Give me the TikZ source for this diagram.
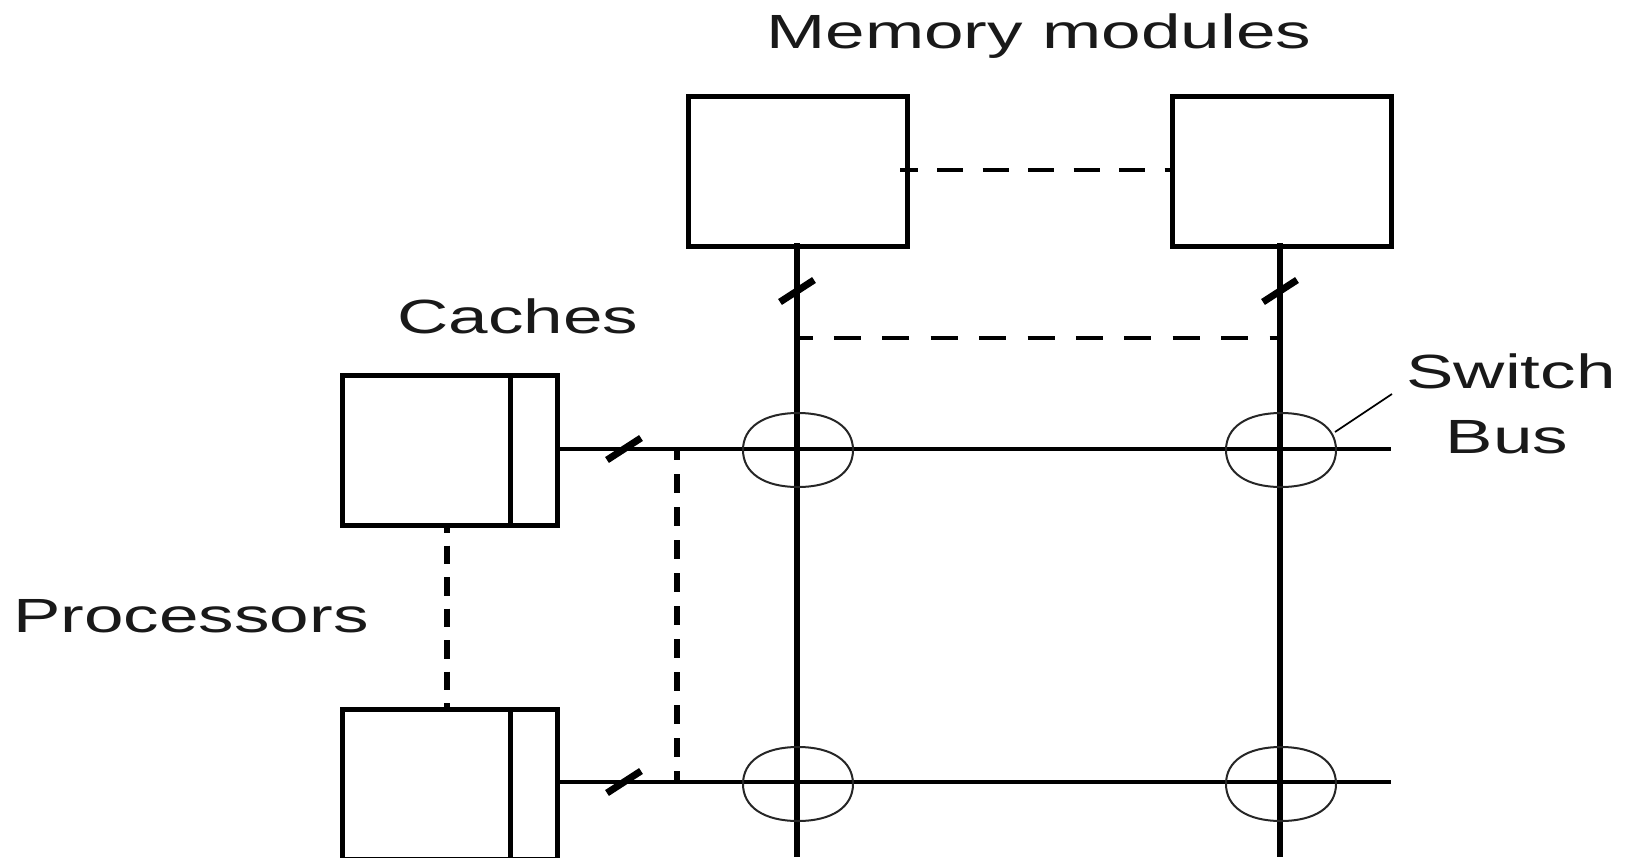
\documentclass[tikz,border=0pt]{standalone}
\usepackage{fontspec}
\usepackage{graphicx}
\setmainfont{Liberation Sans}
\newcommand{\stretched}[1]{\scalebox{1.48}[1]{#1}}
\tikzset{
 box/.style={draw,line width=5pt,inner sep=0pt},
 vbus/.style={line width=5.5pt},
 hbus/.style={line width=4.5pt},
 dash3/.style={line width=4.5pt,dash pattern=on 26pt off 19.5pt},
 dash4/.style={line width=6pt,dash pattern=on 18.5pt off 13pt},
 dash5/.style={line width=6pt,dash pattern=on 19pt off 14pt},
 sw/.style={rectangle,minimum width=110pt,minimum height=74pt,inner sep=0pt,outer sep=0pt},
 swline/.style={line width=2pt,black!85},
 slash/.style={line width=7pt},
 lab/.style={font=\fontsize{48}{48}\selectfont,text=black!90,inner sep=0pt,anchor=base},
}
\begin{document}
\begin{tikzpicture}[x=1pt,y=-1pt]
\useasboundingbox (0,0) rectangle (1633,857);
\node[box,minimum width=219pt,minimum height=150pt] (m1) at (797.5,171) {};
\node[box,minimum width=219pt,minimum height=150pt] (m2) at (1282,171) {};
\node[box,minimum width=215pt,minimum height=150pt] (p1) at (449.5,450) {};
\node[box,minimum width=215pt,minimum height=150pt] (p2) at (449.5,784) {};
\coordinate (c1t) at (510,375); \coordinate (c1b) at (510,525);
\coordinate (c2t) at (510,709); \coordinate (c2b) at (510,857);
\draw[line width=5pt] (c1t) -- (c1b);
\draw[line width=5pt] (c2t) -- (c2b);
\coordinate (v1s) at (797,243); \coordinate (v1e) at (797,857);
\coordinate (v2s) at (1280,243); \coordinate (v2e) at (1280,857);
\draw[vbus] (v1s) -- (v1e);
\draw[vbus] (v2s) -- (v2e);
\coordinate (h1e) at (1391,449); \coordinate (h2e) at (1391,782);
\draw[hbus] (p1.east |- h1e) -- (h1e);
\draw[hbus] (p2.east |- h2e) -- (h2e);
\node[sw] (s11) at (798,450) {};
\node[sw] (s12) at (1281,450) {};
\node[sw] (s21) at (798,784) {};
\node[sw] (s22) at (1281,784) {};
\foreach \n in {s11,s12,s21,s22}
  \draw[swline] (\n.west) .. controls +(0,-23) and +(-34,0) .. (\n.north)
    .. controls +(34,0) and +(0,-23) .. (\n.east)
    .. controls +(0,23) and +(34,0) .. (\n.south)
    .. controls +(-34,0) and +(0,23) .. (\n.west) -- cycle;
\coordinate (d5) at (900,170); \coordinate (d6) at (1173,170);
\draw[dash3,dash phase=8.5] (d5) -- (d6);
\coordinate (d1) at (797,338); \coordinate (d2) at (1280,338);
\draw[line width=4.5pt,dash pattern=on 27pt off 21.4pt,dash phase=11.5] (d1) -- (d2);
\coordinate (p1b) at (447,525); \coordinate (p2t) at (447,709);
\draw[dash4,dash phase=11] (p1b) -- (p2t);
\coordinate (d3) at (677,449); \coordinate (d4) at (677,782);
\draw[dash5,dash phase=8] (d3) -- (d4);
\foreach \x/\y in {797/291,1280/291,624/449,624/782}
  \draw[slash] (\x-17,\y+11) -- (\x+17,\y-11);
\coordinate (l1) at (1335,432); \coordinate (l2) at (1392,394);
\draw[line width=1.7pt] (l1) -- (l2);
\node[lab] (t1) at (1039,48) {\stretched{Memory modules}};
\node[lab] (t2) at (518,333) {\stretched{Caches}};
\node[lab] (t3) at (1511,388) {\stretched{Switch}};
\node[lab] (t4) at (1507,453) {\stretched{Bus}};
\node[lab] (t5) at (191,632) {\stretched{Processors}};
\end{tikzpicture}
\end{document}
